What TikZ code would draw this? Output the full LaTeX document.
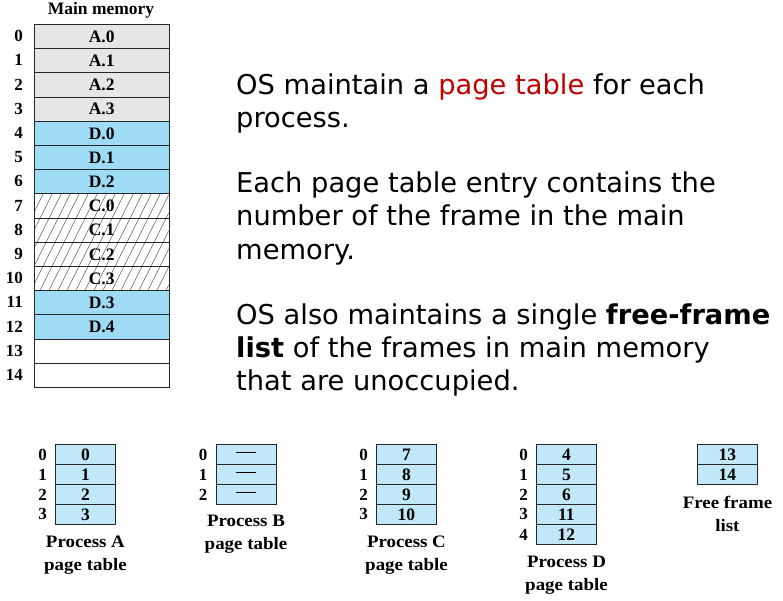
\documentclass[tikz,border=0pt]{standalone}
\usepackage{fontspec}
\setmainfont{Liberation Serif}
\newfontfamily\dejavu{DejaVu Sans}
\newfontfamily\capserif[FakeStretch=1.08]{Liberation Serif}
\usetikzlibrary{positioning}
\definecolor{memgray}{HTML}{E6E6E6}
\definecolor{memblue}{HTML}{9EDCF6}
\definecolor{ptblue}{HTML}{C0E8F8}
\definecolor{hilite}{HTML}{C00000}
\begin{document}
\begin{tikzpicture}[x=1pt,y=-1pt,
  memcell/.style={draw=black!85, line width=0.9pt, minimum width=134.5pt,
    minimum height=24.2pt, inner sep=0pt, anchor=north west,
    font=\fontsize{17.5}{20}\selectfont\bfseries},
  ptcell/.style={draw=black!85, fill=ptblue, line width=0.9pt, minimum width=60pt,
    minimum height=20pt, inner sep=0pt, anchor=north west,
    font=\fontsize{17.5}{20}\selectfont\bfseries},
  idx/.style={anchor=east, inner sep=0pt, font=\fontsize{17}{20}\selectfont\bfseries},
  caption/.style={anchor=north, align=center, inner sep=0pt,
    font=\fontsize{17.5}{23}\selectfont\capserif\bfseries},
  txt/.style={anchor=base west, inner sep=0pt, font=\fontsize{27.3}{33}\selectfont\dejavu},
  hatch/.style={black!70, line width=0.5pt}
]
\useasboundingbox (0,0) rectangle (783,601);

% ---- main memory ----
\node[anchor=base, inner sep=0pt, font=\fontsize{17.5}{20}\selectfont\bfseries] (title) at (101,15) {Main memory};

% hatching behind the frames held by process C
\begin{scope}
  \clip (34,193.6) rectangle (168.5,290.4);
  \foreach \k in {0,...,21}
    \draw[hatch] ({-14+\k*9},290.4) -- ++(48.4,-96.8);
\end{scope}

\foreach \i/\lab/\col in {0/A.0/memgray, 1/A.1/memgray, 2/A.2/memgray, 3/A.3/memgray,
                          4/D.0/memblue, 5/D.1/memblue, 6/D.2/memblue,
                          7/C.0/none, 8/C.1/none, 9/C.2/none, 10/C.3/none,
                          11/D.3/memblue, 12/D.4/memblue, 13/{}/white, 14/{}/white} {
  \node[memcell, fill=\col] (m\i) at (34,{24+\i*24.2}) {\lab};
  \node[idx] (mi\i) at (23,{24+\i*24.2+12.1}) {\i};
}

% ---- process page tables ----
% process A
\foreach \i/\v in {0/0,1/1,2/2,3/3} {
  \node[ptcell] (a\i) at (55,{444+\i*20}) {\v};
  \node[idx, left=8pt of a\i] (ai\i) {\i};
}
\node[caption, below=11pt of a3] (capA) {Process A\\page table};

% process B
\foreach \i in {0,1,2} {
  \node[ptcell] (b\i) at (215.5,{444+\i*20}) {\rule[0.3em]{1.1em}{0.6pt}};
  \node[idx, left=8pt of b\i] (bi\i) {\i};
}
\node[caption, below=10pt of b2] (capB) {Process B\\page table};

% process C
\foreach \i/\v in {0/7,1/8,2/9,3/10} {
  \node[ptcell] (c\i) at (376,{444+\i*20}) {\v};
  \node[idx, left=8pt of c\i] (ci\i) {\i};
}
\node[caption, below=11pt of c3] (capC) {Process C\\page table};

% process D
\foreach \i/\v in {0/4,1/5,2/6,3/11,4/12} {
  \node[ptcell] (d\i) at (536,{444+\i*20}) {\v};
  \node[idx, left=8pt of d\i] (di\i) {\i};
}
\node[caption, below=11pt of d4] (capD) {Process D\\page table};

% free-frame list
\foreach \i/\v in {0/13,1/14} {
  \node[ptcell] (f\i) at (697,{444+\i*20}) {\v};
}
\node[caption, below=11pt of f1] (capF) {Free frame\\list};

% ---- explanatory text ----
\node[txt] (l1) at (236,95)  {OS maintain a \textcolor{hilite}{page table} for each};
\node[txt] (l2) at (236,128) {process.};
\node[txt] (l3) at (236,193) {Each page table entry contains the};
\node[txt] (l4) at (236,226) {number of the frame in the main};
\node[txt] (l5) at (236,259) {memory.};
\node[txt] (l6) at (236,324) {OS also maintains a single \textbf{free-frame}};
\node[txt] (l7) at (236,357) {\textbf{list} of the frames in main memory};
\node[txt] (l8) at (236,390) {that are unoccupied.};
\end{tikzpicture}
\end{document}
